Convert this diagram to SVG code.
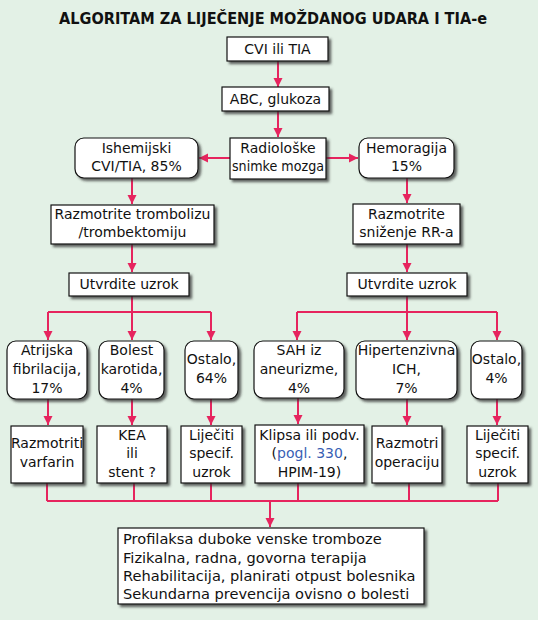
<svg xmlns="http://www.w3.org/2000/svg" width="538" height="620" viewBox="0 0 538 620">
<defs>
<style>
.bg{fill:#e3f1e6}
.box{fill:#ffffff;stroke:#111;stroke-width:1.2;filter:url(#sh)}
.t{font-family:"DejaVu Sans","Verdana",sans-serif;font-size:14px;fill:#111;text-anchor:middle}
.tl{font-family:"DejaVu Sans","Verdana",sans-serif;font-size:14.6px;fill:#111}
.title{font-family:"DejaVu Sans","Verdana",sans-serif;font-size:15px;font-weight:bold;fill:#111;text-anchor:middle}
.c{fill:none;stroke:#e6245e;stroke-width:2}
.a{marker-end:url(#ah)}
.link{fill:#3a5fb4}
</style>
<filter id="sh" x="-10%" y="-10%" width="130%" height="140%">
<feDropShadow dx="2.5" dy="2.5" stdDeviation="0.8" flood-color="#333" flood-opacity="0.75"/>
</filter>
<marker id="ah" markerUnits="userSpaceOnUse" markerWidth="10" markerHeight="10" refX="9" refY="5" orient="auto">
<path d="M0,0.5 L9,5 L0,9.5 z" fill="#e6245e"/>
</marker>
</defs>
<rect class="bg" x="0" y="0" width="538" height="620"/>
<text class="title" x="273" y="24" textLength="428" lengthAdjust="spacingAndGlyphs">ALGORITAM ZA LIJEČENJE MOŽDANOG UDARA I TIA-e</text>

<g id="connectors">
<path class="c a" d="M278,61 V87"/>
<path class="c a" d="M278,111 V137"/>
<path class="c a" d="M230,158 H199"/>
<path class="c a" d="M326,158 H358"/>
<path class="c a" d="M132,178 V204"/>
<path class="c a" d="M132,244 V272"/>
<path class="c a" d="M407,178 V203"/>
<path class="c a" d="M407,244 V272"/>
<path class="c" d="M132,296 V312 M48,312 H211"/>
<path class="c a" d="M48,312 V340"/>
<path class="c a" d="M132,312 V340"/>
<path class="c a" d="M211,312 V340"/>
<path class="c" d="M407,296 V312 M297,312 H497"/>
<path class="c a" d="M297,312 V340"/>
<path class="c a" d="M407,312 V340"/>
<path class="c a" d="M497,312 V340"/>
<path class="c a" d="M48,399 V425"/>
<path class="c a" d="M132,399 V425"/>
<path class="c a" d="M211,399 V425"/>
<path class="c a" d="M298,398 V424"/>
<path class="c a" d="M407,399 V425"/>
<path class="c a" d="M497,399 V425"/>
<path class="c" d="M47,483 V501 M134,483 V501 M211,483 V501 M298,483 V501 M409,483 V501 M498,483 V501 M47,501 H498"/>
<path class="c a" d="M270,501 V527"/>
</g>

<g id="n_cvi"><rect class="box" x="227" y="37" width="101" height="24"/><text class="t" x="277.5" y="54">CVI ili TIA</text></g>
<g id="n_abc"><rect class="box" x="222" y="87" width="107" height="24"/><text class="t" x="275.5" y="104">ABC, glukoza</text></g>
<g id="n_radio"><rect class="box" x="230" y="138" width="96" height="41"/><text class="t" x="278" y="153">Radiološke</text><text class="t" x="278" y="171" textLength="92" lengthAdjust="spacingAndGlyphs">snimke mozga</text></g>
<g id="n_isch"><rect class="box" x="75" y="138" width="123" height="40" rx="9"/><text class="t" x="136.5" y="153">Ishemijski</text><text class="t" x="136.5" y="171">CVI/TIA, 85%</text></g>
<g id="n_hem"><rect class="box" x="359" y="138" width="95" height="40" rx="9"/><text class="t" x="406.5" y="153">Hemoragija</text><text class="t" x="406.5" y="171">15%</text></g>
<g id="n_tromb"><rect class="box" x="51" y="205" width="163" height="39"/><text class="t" x="132.5" y="219">Razmotrite trombolizu</text><text class="t" x="132.5" y="237">/trombektomiju</text></g>
<g id="n_rr"><rect class="box" x="353" y="204" width="107" height="40"/><text class="t" x="406.5" y="219">Razmotrite</text><text class="t" x="406.5" y="237">sniženje RR-a</text></g>
<g id="n_uzrok_l"><rect class="box" x="69" y="273" width="120" height="23"/><text class="t" x="129" y="289">Utvrdite uzrok</text></g>
<g id="n_uzrok_r"><rect class="box" x="347" y="273" width="120" height="23"/><text class="t" x="407" y="289">Utvrdite uzrok</text></g>

<g id="n_af"><rect class="box" x="7" y="341" width="80" height="58" rx="9"/><text class="t" x="47" y="355">Atrijska</text><text class="t" x="47" y="374">fibrilacija,</text><text class="t" x="47" y="393">17%</text></g>
<g id="n_car"><rect class="box" x="99" y="341" width="65" height="58" rx="9"/><text class="t" x="131.5" y="355">Bolest</text><text class="t" x="131.5" y="374">karotida,</text><text class="t" x="131.5" y="393">4%</text></g>
<g id="n_ost1"><rect class="box" x="185" y="341" width="53" height="58" rx="9"/><text class="t" x="211.5" y="364">Ostalo,</text><text class="t" x="211.5" y="383">64%</text></g>
<g id="n_sah"><rect class="box" x="254" y="341" width="90" height="57" rx="9"/><text class="t" x="299" y="355">SAH iz</text><text class="t" x="299" y="374">aneurizme,</text><text class="t" x="299" y="393">4%</text></g>
<g id="n_ich"><rect class="box" x="356" y="341" width="101" height="58" rx="9"/><text class="t" x="406.5" y="355">Hipertenzivna</text><text class="t" x="406.5" y="374">ICH,</text><text class="t" x="406.5" y="393">7%</text></g>
<g id="n_ost2"><rect class="box" x="471" y="341" width="51" height="58" rx="9"/><text class="t" x="496.5" y="364">Ostalo,</text><text class="t" x="496.5" y="383">4%</text></g>

<g id="n_warf"><rect class="box" x="11" y="426" width="72" height="57"/><text class="t" x="47" y="448">Razmotriti</text><text class="t" x="47" y="467">varfarin</text></g>
<g id="n_kea"><rect class="box" x="97" y="426" width="70" height="57"/><text class="t" x="132" y="440">KEA</text><text class="t" x="132" y="458">ili</text><text class="t" x="132" y="477">stent ?</text></g>
<g id="n_spec1"><rect class="box" x="181" y="426" width="61" height="57"/><text class="t" x="211.5" y="440">Liječiti</text><text class="t" x="211.5" y="458">specif.</text><text class="t" x="211.5" y="477">uzrok</text></g>
<g id="n_clip"><rect class="box" x="255" y="425" width="109" height="58"/><text class="t" x="309.5" y="440">Klipsa ili podv.</text><text class="t" x="309.5" y="458">(<tspan class="link">pogl. 330</tspan>,</text><text class="t" x="309.5" y="477">HPIM-19)</text></g>
<g id="n_oper"><rect class="box" x="372" y="426" width="70" height="57"/><text class="t" x="407" y="448">Razmotri</text><text class="t" x="407" y="467">operaciju</text></g>
<g id="n_spec2"><rect class="box" x="467" y="426" width="61" height="57"/><text class="t" x="497.5" y="440">Liječiti</text><text class="t" x="497.5" y="458">specif.</text><text class="t" x="497.5" y="477">uzrok</text></g>

<g id="n_final"><rect class="box" x="118" y="528" width="306" height="76"/>
<text class="tl" x="123" y="544">Profilaksa duboke venske tromboze</text>
<text class="tl" x="123" y="563">Fizikalna, radna, govorna terapija</text>
<text class="tl" x="123" y="581">Rehabilitacija, planirati otpust bolesnika</text>
<text class="tl" x="123" y="599">Sekundarna prevencija ovisno o bolesti</text>
</g>
</svg>
